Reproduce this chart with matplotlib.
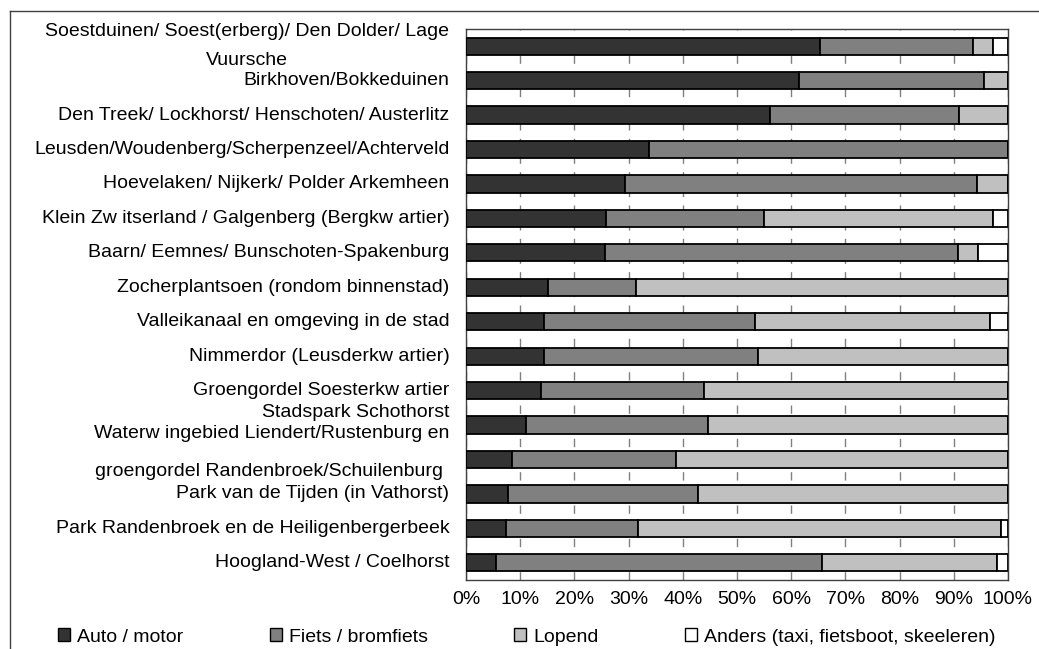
import matplotlib.pyplot as plt
import matplotlib.transforms as mtransforms
import numpy as np
from matplotlib.lines import Line2D
from matplotlib.patches import Patch

plt.rcParams['font.family'] = ['Liberation Sans', 'DejaVu Sans']

gebieden = ['Soestduinen/ Soest(erberg)/ Den Dolder/ Lage\nVuursche',
            'Birkhoven/Bokkeduinen',
            'Den Treek/ Lockhorst/ Henschoten/ Austerlitz',
            'Leusden/Woudenberg/Scherpenzeel/Achterveld',
            'Hoevelaken/ Nijkerk/ Polder Arkemheen',
            'Klein Zw itserland / Galgenberg (Bergkw artier)',
            'Baarn/ Eemnes/ Bunschoten-Spakenburg',
            'Zocherplantsoen (rondom binnenstad)',
            'Valleikanaal en omgeving in de stad',
            'Nimmerdor (Leusderkw artier)',
            'Groengordel Soesterkw artier',
            'Stadspark Schothorst',
            'Waterw ingebied Liendert/Rustenburg en\ngroengordel Randenbroek/Schuilenburg ',
            'Park van de Tijden (in Vathorst)',
            'Park Randenbroek en de Heiligenbergerbeek',
            'Hoogland-West / Coelhorst']

auto = [65.3, 61.5, 56.0, 33.8, 29.3, 25.8, 25.6, 15.1, 14.4, 14.4, 13.8, 11.1, 8.4, 7.8, 7.4, 5.5]
fiets = [28.2, 34.0, 35.0, 66.2, 64.9, 29.1, 65.2, 16.3, 38.9, 39.5, 30.1, 33.5, 30.4, 35.0, 24.4, 60.2]
lopend = [3.8, 4.5, 9.0, 0.0, 5.8, 42.4, 3.7, 68.6, 43.3, 46.1, 56.1, 55.4, 61.2, 57.2, 66.9, 32.3]
anders = [2.7, 0.0, 0.0, 0.0, 0.0, 2.7, 5.5, 0.0, 3.4, 0.0, 0.0, 0.0, 0.0, 0.0, 1.3, 2.0]

series = ['Auto / motor', 'Fiets / bromfiets', 'Lopend', 'Anders (taxi, fietsboot, skeeleren)']
kleuren = ['#333333', '#808080', '#c0c0c0', '#ffffff']

fs = 14

fig = plt.figure(figsize=(10.39, 6.49), dpi=100)
ax = fig.add_axes([466 / 1039, 1 - 580 / 649, 542 / 1039, 551 / 649])

y = np.arange(len(gebieden))
left = np.zeros(len(gebieden))
for waarden, kleur in zip([auto, fiets, lopend, anders], kleuren):
    ax.barh(y, waarden, left=left, height=0.5, color=kleur, edgecolor='black',
            linewidth=1.3, zorder=3)
    left += np.array(waarden)

ax.set_xlim(0, 100)
ax.set_ylim(len(gebieden) - 0.5, -0.5)
ax.set_xticks(np.arange(0, 101, 10))
ax.set_xticklabels([f'{v}%' for v in range(0, 101, 10)], fontsize=fs)
ax.set_yticks(y)
ax.set_yticklabels(gebieden, fontsize=fs, multialignment='center', va='center')
ax.tick_params(axis='both', length=0)
ax.tick_params(axis='x', pad=8)
ax.tick_params(axis='y', pad=12)


def verschuif(lab, pt):
    lab.set_transform(lab.get_transform() +
                      mtransforms.ScaledTranslation(0, pt / 72, fig.dpi_scale_trans))


for lab in ax.get_yticklabels():
    tekst = lab.get_text()
    if 'Vuursche' in tekst:
        lab.set_linespacing(1.9)
    elif 'Waterw' in tekst:
        lab.set_linespacing(2.6)
        verschuif(lab, 5)
    elif tekst == 'Stadspark Schothorst':
        verschuif(lab, 9)

ax.grid(axis='x', color='#808080', linestyle=(0, (6, 6)), linewidth=1, zorder=0)
for s in ax.spines.values():
    s.set_color('#404040')
    s.set_linewidth(1)

handles = [Patch(facecolor=k, edgecolor='black', linewidth=1) for k in kleuren]
fig.legend(handles, series, loc='center left', bbox_to_anchor=(58 / 1039, 1 - 637 / 649),
           ncol=4, frameon=False, fontsize=fs, borderpad=0, borderaxespad=0,
           handlelength=0.62, handleheight=0.62, handletextpad=0.36, columnspacing=4.45)

# rand rond de figuur
fig.add_artist(Line2D([9.5 / 1039, 9.5 / 1039], [0, 1 - 10.5 / 649], color='#404040', lw=1))
fig.add_artist(Line2D([9.5 / 1039, 1], [1 - 10.5 / 649, 1 - 10.5 / 649], color='#404040', lw=1))

fig.savefig('out.png', dpi=100)
